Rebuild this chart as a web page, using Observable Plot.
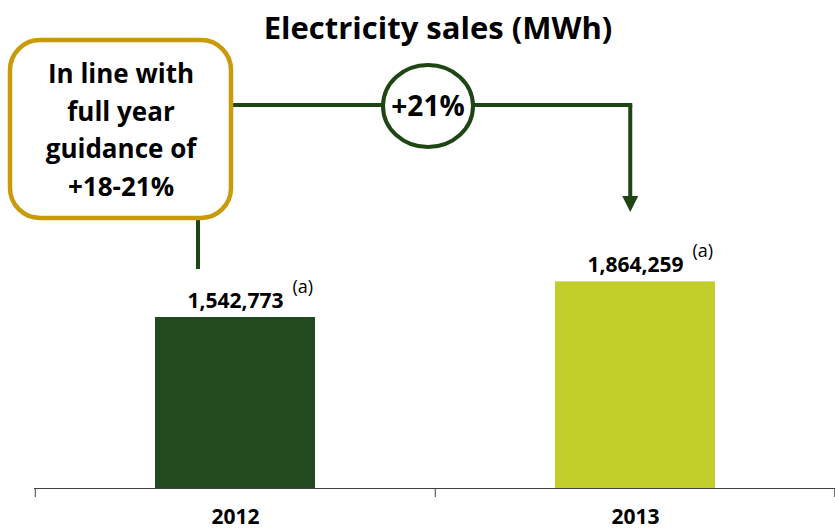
<!DOCTYPE html>
<html><head><meta charset="utf-8">
<script src="https://cdn.jsdelivr.net/npm/d3@7"></script>
<script src="https://cdn.jsdelivr.net/npm/@observablehq/plot@0.6"></script>
<style>
body{margin:0;background:#fff;}
svg{font-family:"Open Sans",Lato,sans-serif;}
</style></head>
<body><div id="chart"></div>
<script>
const categories = ["2012", "2013"];
const values = [1542773, 1864259];
const valueLabels = ["1,542,773", "1,864,259"];
const barColors = ["#214B1E", "#C2CE2B"];
const title = "Electricity sales (MWh)";
const calloutLines = ["In line with", "full year", "guidance of", "+18-21%"];
const growthLabel = "+21%";
const footnote = "(a)";

const data = categories.map((c, i) => ({year: c, value: values[i], label: valueLabels[i]}));
const W = 835, H = 530, x0 = 34, x1 = 835, base = 488;
const bw = (x1 - x0) / categories.length;
const pxPerUnit = 171 / 1542773;
const yMax = 4000000;

const plot = Plot.plot({
  width: W, height: H,
  marginLeft: x0, marginRight: 0, marginTop: 0, marginBottom: H - base,
  style: {fontFamily: "'Open Sans', Lato, sans-serif"},
  x: {domain: categories, range: [x0, x1], padding: 0, axis: null},
  y: {domain: [0, yMax], range: [base, base - yMax * pxPerUnit], axis: null},
  color: {domain: categories, range: barColors},
  marks: [
    Plot.barY(data, {x: "year", y: "value", fill: "year", insetLeft: 120, insetRight: 120}),
    Plot.ruleY([0], {stroke: "#404040", strokeWidth: 1}),
    Plot.ruleX(data, {x: "year", y1: 0, y2: 0, dx: -bw / 2, insetBottom: -9, stroke: "#404040"}),
    Plot.ruleX(data.slice(-1), {x: "year", y1: 0, y2: 0, dx: bw / 2 - 1, insetBottom: -9, stroke: "#404040"}),
    Plot.text(data, {x: "year", y: 0, text: "year", dy: 35, lineAnchor: "bottom", fontSize: 21, fontWeight: "bold", fill: "#000"}),
    Plot.text(data, {x: "year", y: "value", text: "label", dy: -10, lineAnchor: "bottom", fontSize: 21, fontWeight: "bold", fill: "#000"}),
    Plot.text(data, {x: "year", y: "value", text: () => footnote, dx: 57, dy: -25, lineAnchor: "bottom", textAnchor: "start", fontSize: 18, fill: "#000"})
  ]
});

const svg = d3.select(plot);
const xs = plot.scale("x");
const green = "#1E4514";
const gold = "#C99A0A";

// title
svg.append("text").attr("x", 438).attr("y", 39).attr("text-anchor", "middle")
  .attr("font-size", 31).attr("font-weight", "bold").attr("fill", "#000").text(title);

// connectors
const arrowX = xs.apply("2013") + bw / 2 - 5;
const lineY = 105;
const g = svg.append("g").attr("stroke", green).attr("stroke-width", 4).attr("fill", "none");
g.append("line").attr("x1", 198).attr("x2", 198).attr("y1", 215).attr("y2", 269);
g.append("line").attr("x1", 230).attr("x2", arrowX + 2).attr("y1", lineY).attr("y2", lineY);
g.append("line").attr("x1", arrowX).attr("x2", arrowX).attr("y1", lineY).attr("y2", 198);
svg.append("path").attr("d", `M${arrowX - 8},196 L${arrowX + 8},196 L${arrowX},212 Z`).attr("fill", green);

// circle
svg.append("ellipse").attr("cx", 428).attr("cy", 106).attr("rx", 45).attr("ry", 41)
  .attr("fill", "#fff").attr("stroke", green).attr("stroke-width", 4);
svg.append("text").attr("x", 428).attr("y", 116).attr("text-anchor", "middle")
  .attr("font-size", 28).attr("font-weight", "bold").attr("fill", "#000").text(growthLabel);

// callout box
svg.append("rect").attr("x", 10).attr("y", 40).attr("width", 221).attr("height", 178)
  .attr("rx", 30).attr("ry", 30).attr("fill", "#fff").attr("stroke", gold).attr("stroke-width", 4.5);
calloutLines.forEach((t, i) => {
  svg.append("text").attr("x", 121).attr("y", 83 + i * 37.7).attr("text-anchor", "middle")
    .attr("font-size", 26).attr("font-weight", "bold").attr("fill", "#000").text(t);
});

document.getElementById("chart").appendChild(plot);
</script></body></html>
